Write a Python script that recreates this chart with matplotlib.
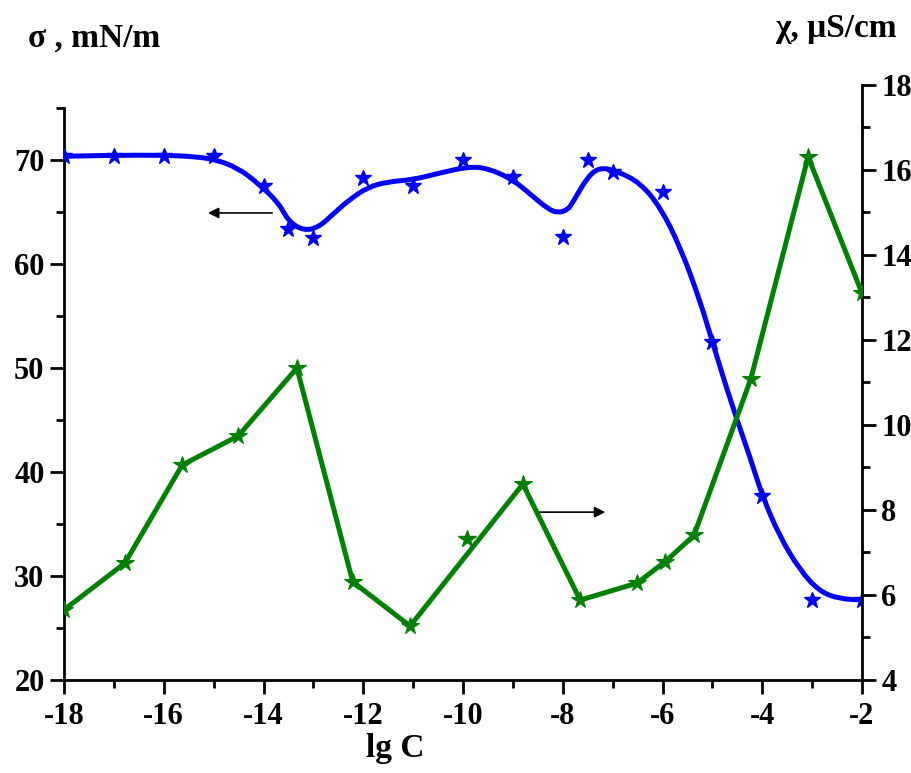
import numpy as np
import matplotlib
matplotlib.use("Agg")
import matplotlib.pyplot as plt
from matplotlib.ticker import MultipleLocator
from matplotlib.path import Path
from matplotlib.patches import PathPatch

plt.rcParams['font.family'] = ['Liberation Serif', 'DejaVu Serif']
plt.rcParams['font.weight'] = 'bold'
plt.rcParams['axes.unicode_minus'] = False

# surface tension points (left axis)
sigma_x = [-18, -17, -16, -15, -14, -13.5, -13, -12, -11, -10, -9, -8, -7.5, -7, -6, -5, -4, -3, -2]
sigma_y = [70.4, 70.4, 70.4, 70.4, 67.5, 63.4, 62.5, 68.3, 67.5, 70.0, 68.4, 62.6, 70.0, 68.8, 66.9, 52.5, 37.7, 27.7, 27.7]

# smoothed fit curve
fit_x = [-18, -17, -16, -15.5, -15, -14.5, -14.1, -13.7, -13.5, -13.2, -12.9, -12.6, -12.3,
         -11.9, -11.5, -11.0, -10.5, -9.9, -9.5, -9.0, -8.6, -8.3, -8.1, -7.9, -7.8, -7.5,
         -7.25, -6.9, -6.45, -6.05, -5.65, -5.25, -5.0, -4.6, -4.25, -4.0, -3.65, -3.25,
         -2.85, -2.45, -2.0]
fit_y = [70.35, 70.45, 70.45, 70.35, 70.1, 69.2, 67.7, 65.9, 64.1, 63.2, 63.5, 64.8, 66.1,
         67.4, 67.9, 68.1, 68.7, 69.35, 69.2, 68.1, 66.5, 65.3, 64.9, 65.2, 65.9, 68.4,
         69.3, 68.9, 67.8, 65.5, 61.7, 56.5, 52.5, 46.3, 41.5, 37.7, 33.8, 30.6,
         28.5, 27.8, 27.7]

# conductivity (right axis)
chi_x = [-18, -16.78, -15.63, -14.51, -13.33, -12.21, -11.06, -8.8, -7.65, -6.51, -5.95, -5.37, -4.23, -3.08, -2]
chi_y = [5.65, 6.75, 9.06, 9.74, 11.34, 6.31, 5.27, 8.61, 5.88, 6.28, 6.78, 7.4, 11.08, 16.31, 13.1]
chi_extra_x = [-9.92]
chi_extra_y = [7.32]

blue = '#0000ff'
green = '#008000'

fig = plt.figure(figsize=(9.12, 7.73), dpi=100)
ax = fig.add_axes([64 / 912, 1 - 680 / 773, 798 / 912, 595 / 773])
ax2 = ax.twinx()

ax.set_xlim(-18, -2)
ax.set_ylim(20, 77.2)
ax2.set_ylim(4, 18)

# smooth drawing of the fit: quadratic segments through midpoints of the read points
pts = np.column_stack([fit_x, fit_y])
verts = [pts[0]]
codes = [Path.MOVETO]
for i in range(1, len(pts) - 1):
    mid = (pts[i] + pts[i + 1]) / 2
    verts += [pts[i], mid]
    codes += [Path.CURVE3, Path.CURVE3]
verts.append(pts[-1])
codes.append(Path.LINETO)
ax.add_patch(PathPatch(Path(verts, codes), fill=False, edgecolor=blue, lw=3.6,
                       capstyle='round', joinstyle='round', zorder=3))
ax.plot(sigma_x, sigma_y, ls='none', marker='*', ms=12, color=blue, zorder=4)

ax2.plot(chi_x, chi_y, color=green, lw=3.6, marker='*', ms=13, mfc=green, mec=green, mew=0.8,
         solid_joinstyle='round', zorder=3)
ax2.plot(chi_extra_x, chi_extra_y, ls='none', marker='*', ms=13, color=green, zorder=3)

ax.spines['left'].set_bounds(20, 75)
ax.spines['top'].set_visible(False)
ax2.spines['top'].set_visible(False)
for sp in ['left', 'bottom']:
    ax.spines[sp].set_linewidth(2)
ax2.spines['right'].set_linewidth(2)
ax2.spines['left'].set_visible(False)
ax2.spines['bottom'].set_visible(False)

ax.xaxis.set_major_locator(MultipleLocator(2))
ax.xaxis.set_minor_locator(MultipleLocator(1))
ax.set_yticks([20, 30, 40, 50, 60, 70])
ax.set_yticks([25, 35, 45, 55, 65, 75], minor=True)
ax2.yaxis.set_major_locator(MultipleLocator(2))
ax2.yaxis.set_minor_locator(MultipleLocator(1))

for a in (ax, ax2):
    a.tick_params(which='major', direction='out', length=10, width=2, labelsize=22, pad=4)
    a.tick_params(which='minor', direction='out', length=6, width=2)
ax.tick_params(axis='x', pad=6)

for lab in ax.get_xticklabels() + ax.get_yticklabels() + ax2.get_yticklabels():
    lab.set_fontweight('bold')

# arrows pointing to the axes
ax.annotate('', xy=(-15.17, 64.9), xytext=(-13.77, 64.9),
            arrowprops=dict(arrowstyle='-|>', color='black', lw=1.2, mutation_scale=16))
ax2.annotate('', xy=(-7.09, 7.95), xytext=(-8.52, 7.95),
             arrowprops=dict(arrowstyle='-|>', color='black', lw=1.2, mutation_scale=16))

fig.text(28 / 912, 1 - 38 / 773, 'σ , mN/m', fontsize=24, fontweight='bold', ha='left', va='center')
fig.text(897 / 912, 1 - 28 / 773, 'χ, μS/cm', fontsize=24, fontweight='bold', ha='right', va='center')
fig.text(395 / 912, 1 - 748 / 773, 'lg C', fontsize=24, fontweight='bold', ha='center', va='center')

fig.savefig('out.png', dpi=100)
